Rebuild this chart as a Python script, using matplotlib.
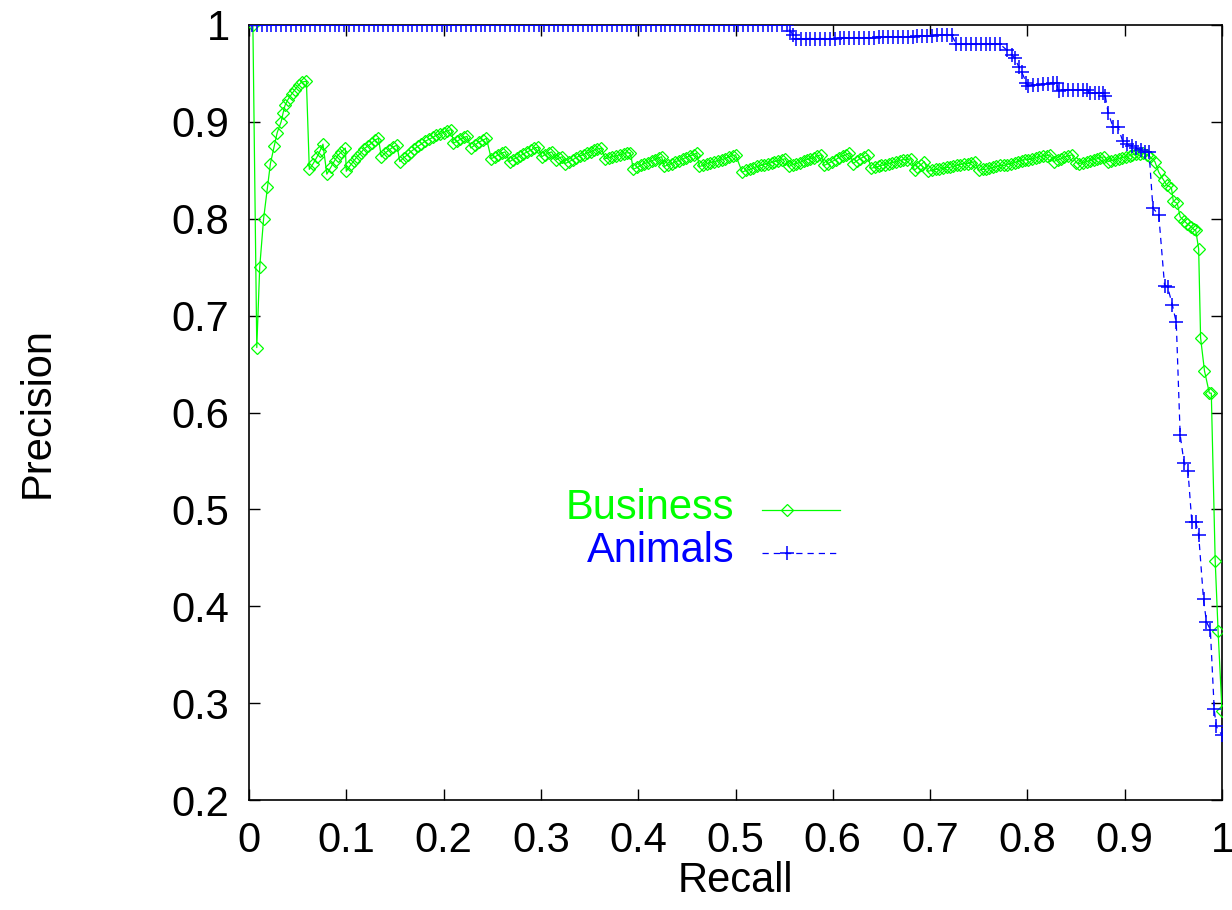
import matplotlib
matplotlib.use('Agg')
import matplotlib.pyplot as plt
from matplotlib.ticker import FuncFormatter

# ---------------- data ----------------
business_recall = [
    0.004, 0.008, 0.011, 0.015, 0.019, 0.022, 0.026, 0.029, 0.033, 0.035, 0.037, 0.040, 0.044, 0.047, 0.051, 0.054, 0.059,
    0.062, 0.066, 0.070, 0.073, 0.076,
    0.080, 0.084, 0.088, 0.091, 0.095, 0.099,
    0.100, 0.104, 0.108, 0.111, 0.115, 0.118, 0.122, 0.126, 0.129, 0.133,
    0.136, 0.140, 0.144, 0.148, 0.152,
    0.155, 0.159, 0.163, 0.166, 0.170, 0.174, 0.177, 0.181, 0.185, 0.189, 0.192, 0.196, 0.200, 0.204, 0.208,
    0.210, 0.214, 0.217, 0.221, 0.224,
    0.228, 0.232, 0.236, 0.240, 0.244,
    0.249, 0.253, 0.256, 0.260, 0.263,
    0.268, 0.271, 0.275, 0.279, 0.282, 0.286, 0.290, 0.293, 0.297,
    0.301, 0.304, 0.308, 0.311,
    0.316, 0.319, 0.322,
    0.325, 0.329, 0.333, 0.336, 0.340, 0.344, 0.347, 0.351, 0.355, 0.358, 0.362,
    0.366, 0.370, 0.373, 0.377, 0.381, 0.385, 0.388, 0.392,
    0.395, 0.399, 0.403, 0.406, 0.410, 0.414, 0.417, 0.421, 0.424,
    0.427, 0.431, 0.435, 0.438, 0.442, 0.446, 0.449, 0.453, 0.457, 0.460,
    0.463, 0.467, 0.471, 0.474, 0.478, 0.482, 0.486, 0.489, 0.493, 0.497, 0.500,
    0.507, 0.511, 0.515, 0.518, 0.522, 0.526, 0.529, 0.533, 0.537, 0.540, 0.544, 0.548, 0.551,
    0.555, 0.559, 0.562, 0.566, 0.570, 0.573, 0.577, 0.581, 0.584, 0.588,
    0.591, 0.595, 0.599, 0.603, 0.606, 0.610, 0.614, 0.617,
    0.621, 0.625, 0.628, 0.632, 0.636,
    0.639, 0.643, 0.647, 0.650, 0.654, 0.658, 0.661, 0.665, 0.669, 0.672, 0.676, 0.680,
    0.684, 0.687, 0.691, 0.694,
    0.698, 0.702, 0.706, 0.709, 0.713, 0.717, 0.720, 0.724, 0.728, 0.731, 0.735, 0.739, 0.742, 0.746,
    0.750, 0.754, 0.757, 0.761, 0.765, 0.768, 0.772, 0.776, 0.779, 0.783, 0.787, 0.790, 0.794, 0.798, 0.801,
    0.805, 0.809, 0.812, 0.816, 0.820, 0.823,
    0.827, 0.831, 0.835, 0.838, 0.842, 0.846,
    0.850, 0.853, 0.857, 0.861, 0.864, 0.868, 0.872, 0.875, 0.879,
    0.883, 0.886, 0.890, 0.894, 0.897, 0.901, 0.905, 0.908, 0.912, 0.916, 0.919,
    0.923, 0.926, 0.931, 0.935, 0.940, 0.943, 0.948, 0.950, 0.954, 0.957, 0.961, 0.964,
    0.968, 0.971, 0.973, 0.976, 0.978, 0.982, 0.987, 0.989, 0.993, 0.996, 1.000,
]
business_precision = [
    1.000, 0.667, 0.750, 0.800, 0.833, 0.857, 0.875, 0.889, 0.900, 0.909, 0.917, 0.923, 0.929, 0.933, 0.938, 0.941, 0.942,
    0.851, 0.857, 0.864, 0.870, 0.877,
    0.846, 0.853, 0.860, 0.865, 0.869, 0.873,
    0.849, 0.855, 0.860, 0.864, 0.868, 0.872, 0.875, 0.878, 0.881, 0.883,
    0.864, 0.868, 0.871, 0.874, 0.876,
    0.859, 0.863, 0.866, 0.869, 0.872, 0.875, 0.877, 0.880, 0.882, 0.884, 0.886, 0.888, 0.889, 0.891, 0.892,
    0.878, 0.880, 0.882, 0.884, 0.885,
    0.873, 0.876, 0.879, 0.881, 0.883,
    0.862, 0.864, 0.866, 0.868, 0.869,
    0.859, 0.861, 0.863, 0.865, 0.867, 0.869, 0.871, 0.873, 0.874,
    0.864, 0.866, 0.868, 0.869,
    0.861, 0.863, 0.864,
    0.857, 0.859, 0.861, 0.863, 0.865, 0.866, 0.868, 0.869, 0.871, 0.872, 0.873,
    0.862, 0.863, 0.864, 0.865, 0.866, 0.867, 0.868, 0.868,
    0.851, 0.853, 0.855, 0.857, 0.858, 0.860, 0.861, 0.863, 0.864,
    0.854, 0.856, 0.857, 0.859, 0.860, 0.862, 0.863, 0.865, 0.866, 0.868,
    0.854, 0.855, 0.857, 0.858, 0.859, 0.860, 0.861, 0.862, 0.864, 0.865, 0.866,
    0.848, 0.850, 0.851, 0.852, 0.854, 0.855, 0.856, 0.857, 0.858, 0.859, 0.860, 0.861, 0.862,
    0.854, 0.856, 0.857, 0.858, 0.860, 0.861, 0.862, 0.863, 0.865, 0.866,
    0.855, 0.857, 0.859, 0.861, 0.863, 0.865, 0.866, 0.868,
    0.857, 0.860, 0.862, 0.864, 0.866,
    0.852, 0.853, 0.854, 0.855, 0.856, 0.857, 0.858, 0.859, 0.860, 0.861, 0.861, 0.862,
    0.850, 0.853, 0.856, 0.859,
    0.849, 0.850, 0.851, 0.851, 0.852, 0.853, 0.853, 0.854, 0.855, 0.856, 0.857, 0.857, 0.858, 0.859,
    0.850, 0.851, 0.851, 0.852, 0.853, 0.854, 0.855, 0.855, 0.856, 0.857, 0.858, 0.859, 0.860, 0.861, 0.861,
    0.862, 0.863, 0.864, 0.865, 0.865, 0.866,
    0.859, 0.861, 0.862, 0.864, 0.865, 0.866,
    0.858, 0.857, 0.858, 0.859, 0.860, 0.861, 0.862, 0.863, 0.864,
    0.859, 0.860, 0.861, 0.862, 0.863, 0.864, 0.865, 0.866, 0.867, 0.867, 0.868,
    0.866, 0.864, 0.859, 0.848, 0.840, 0.835, 0.832, 0.818, 0.816, 0.802, 0.798, 0.795,
    0.792, 0.789, 0.788, 0.769, 0.677, 0.643, 0.620, 0.620, 0.447, 0.374, 0.292,
]

animals_recall = [
    0.003, 0.008, 0.013, 0.018, 0.023, 0.028, 0.033, 0.038, 0.043, 0.048,
    0.053, 0.058, 0.063, 0.068, 0.073, 0.078, 0.083, 0.088, 0.093, 0.098,
    0.103, 0.108, 0.113, 0.118, 0.123, 0.128, 0.133, 0.138, 0.143, 0.148,
    0.153, 0.158, 0.163, 0.168, 0.173, 0.178, 0.183, 0.188, 0.193, 0.198,
    0.203, 0.208, 0.213, 0.218, 0.223, 0.228, 0.233, 0.238, 0.243, 0.248,
    0.253, 0.258, 0.263, 0.268, 0.273, 0.278, 0.283, 0.288, 0.293, 0.298,
    0.303, 0.308, 0.313, 0.318, 0.323, 0.328, 0.333, 0.338, 0.343, 0.348,
    0.353, 0.358, 0.363, 0.368, 0.373, 0.378, 0.383, 0.388, 0.393, 0.398,
    0.403, 0.408, 0.413, 0.418, 0.423, 0.428, 0.433, 0.438, 0.443, 0.448,
    0.453, 0.458, 0.463, 0.468, 0.473, 0.478, 0.483, 0.488, 0.493, 0.498,
    0.503, 0.508, 0.513, 0.518, 0.523, 0.528, 0.533, 0.538, 0.543, 0.548,
    0.553, 0.556, 0.559, 0.562,
    0.567, 0.572, 0.577, 0.582, 0.587, 0.592, 0.597, 0.602, 0.607, 0.612,
    0.617, 0.622, 0.627, 0.632, 0.637, 0.642, 0.647, 0.652, 0.657, 0.662,
    0.667, 0.672, 0.677, 0.682, 0.687, 0.692, 0.697, 0.702, 0.707, 0.712,
    0.717, 0.722,
    0.727, 0.732, 0.737, 0.742, 0.747, 0.752, 0.757, 0.762, 0.767, 0.772,
    0.779, 0.784, 0.787, 0.791, 0.794, 0.799, 0.801,
    0.806, 0.811, 0.816, 0.821, 0.826, 0.830,
    0.832, 0.837, 0.842, 0.847, 0.852, 0.857, 0.861,
    0.864, 0.869, 0.874, 0.878,
    0.880, 0.883, 0.888, 0.893, 0.898, 0.902, 0.907, 0.912, 0.917, 0.921, 0.925,
    0.929, 0.935, 0.941, 0.944, 0.949, 0.953, 0.957, 0.961, 0.965, 0.969,
    0.973, 0.976, 0.981, 0.984, 0.988, 0.992, 0.994, 1.000,
]
animals_precision = [
    1.0, 1.0, 1.0, 1.0, 1.0, 1.0, 1.0, 1.0, 1.0, 1.0,
    1.0, 1.0, 1.0, 1.0, 1.0, 1.0, 1.0, 1.0, 1.0, 1.0,
    1.0, 1.0, 1.0, 1.0, 1.0, 1.0, 1.0, 1.0, 1.0, 1.0,
    1.0, 1.0, 1.0, 1.0, 1.0, 1.0, 1.0, 1.0, 1.0, 1.0,
    1.0, 1.0, 1.0, 1.0, 1.0, 1.0, 1.0, 1.0, 1.0, 1.0,
    1.0, 1.0, 1.0, 1.0, 1.0, 1.0, 1.0, 1.0, 1.0, 1.0,
    1.0, 1.0, 1.0, 1.0, 1.0, 1.0, 1.0, 1.0, 1.0, 1.0,
    1.0, 1.0, 1.0, 1.0, 1.0, 1.0, 1.0, 1.0, 1.0, 1.0,
    1.0, 1.0, 1.0, 1.0, 1.0, 1.0, 1.0, 1.0, 1.0, 1.0,
    1.0, 1.0, 1.0, 1.0, 1.0, 1.0, 1.0, 1.0, 1.0, 1.0,
    1.0, 1.0, 1.0, 1.0, 1.0, 1.0, 1.0, 1.0, 1.0, 1.0,
    1.0, 0.994, 0.990, 0.986,
    0.986, 0.986, 0.986, 0.986, 0.986, 0.986, 0.986, 0.986, 0.987, 0.987,
    0.987, 0.987, 0.987, 0.987, 0.987, 0.987, 0.988, 0.988, 0.988, 0.988,
    0.988, 0.988, 0.988, 0.988, 0.989, 0.989, 0.989, 0.989, 0.990, 0.990,
    0.990, 0.990,
    0.980, 0.980, 0.980, 0.980, 0.980, 0.980, 0.980, 0.980, 0.980, 0.980,
    0.974, 0.969, 0.966, 0.957, 0.952, 0.940, 0.937,
    0.938, 0.938, 0.939, 0.939, 0.940, 0.940,
    0.932, 0.933, 0.933, 0.933, 0.933, 0.933, 0.933,
    0.930, 0.930, 0.930, 0.930,
    0.927, 0.909, 0.895, 0.895, 0.880, 0.877, 0.875, 0.873, 0.871, 0.869, 0.869,
    0.811, 0.804, 0.731, 0.730, 0.711, 0.693, 0.577, 0.548, 0.540, 0.487,
    0.487, 0.474, 0.407, 0.384, 0.376, 0.294, 0.276, 0.267,
]

series_labels = ["Business", "Animals"]
x_ticks = [0.0, 0.1, 0.2, 0.3, 0.4, 0.5, 0.6, 0.7, 0.8, 0.9, 1.0]
y_ticks = [0.2, 0.3, 0.4, 0.5, 0.6, 0.7, 0.8, 0.9, 1.0]

assert len(business_recall) == len(business_precision)
assert len(animals_recall) == len(animals_precision)

# ---------------- styling ----------------
plt.rcParams['font.family'] = ['Liberation Sans', 'DejaVu Sans']
GREEN = '#00ff00'
BLUE = '#0000ff'
FS = 30

green_line = dict(color=GREEN, lw=0.9, ls='-')
green_mark = dict(marker='D', ms=6.6, mfc='none', mec=GREEN, mew=0.9)
blue_line = dict(color=BLUE, lw=0.9, ls=(0, (5, 4)))
blue_mark = dict(marker='+', ms=10, mec=BLUE, mew=1.1)

fig = plt.figure(figsize=(12.32, 9.10), dpi=100)
ax = fig.add_axes([249 / 1232, 1 - 800 / 910, 973 / 1232, 775 / 910])

ax.plot(business_recall, business_precision, zorder=3, **green_line, **green_mark)
ax.plot(animals_recall, animals_precision, zorder=4, **blue_line, **blue_mark)

ax.set_xlim(0, 1)
ax.set_ylim(0.2, 1)
ax.set_xticks(x_ticks)
ax.set_yticks(y_ticks)
fmt = FuncFormatter(lambda v, p: f"{v:g}")
ax.xaxis.set_major_formatter(fmt)
ax.yaxis.set_major_formatter(fmt)
ax.tick_params(direction='in', top=True, right=True, length=7.7, width=1.0,
               labelsize=FS, colors='black')
ax.tick_params(axis='x', pad=15)
ax.tick_params(axis='y', pad=14)
for s in ax.spines.values():
    s.set_linewidth(1.2)

ax.set_xlabel('Recall', fontsize=FS, labelpad=0)
ax.set_ylabel('Precision', fontsize=FS, labelpad=82)

# key (gnuplot style: label to the left of the sample)
key_y = [0.374, 0.319]
key_text_y = [0.377, 0.321]
line_styles = [green_line, blue_line]
mark_styles = [green_mark, blue_mark]
cols = [GREEN, BLUE]
for lab, ky, ty, st, ms, c in zip(series_labels, key_y, key_text_y, line_styles, mark_styles, cols):
    ax.text(0.499, ty, lab, color=c, ha='right', va='center', fontsize=FS,
            transform=ax.transAxes)
    ax.plot([0.527, 0.607], [ky, ky], transform=ax.transAxes, clip_on=False, **st)
    ax.plot([0.553], [ky], transform=ax.transAxes, ls='none', clip_on=False, **ms)

fig.savefig('out.png', dpi=100)
